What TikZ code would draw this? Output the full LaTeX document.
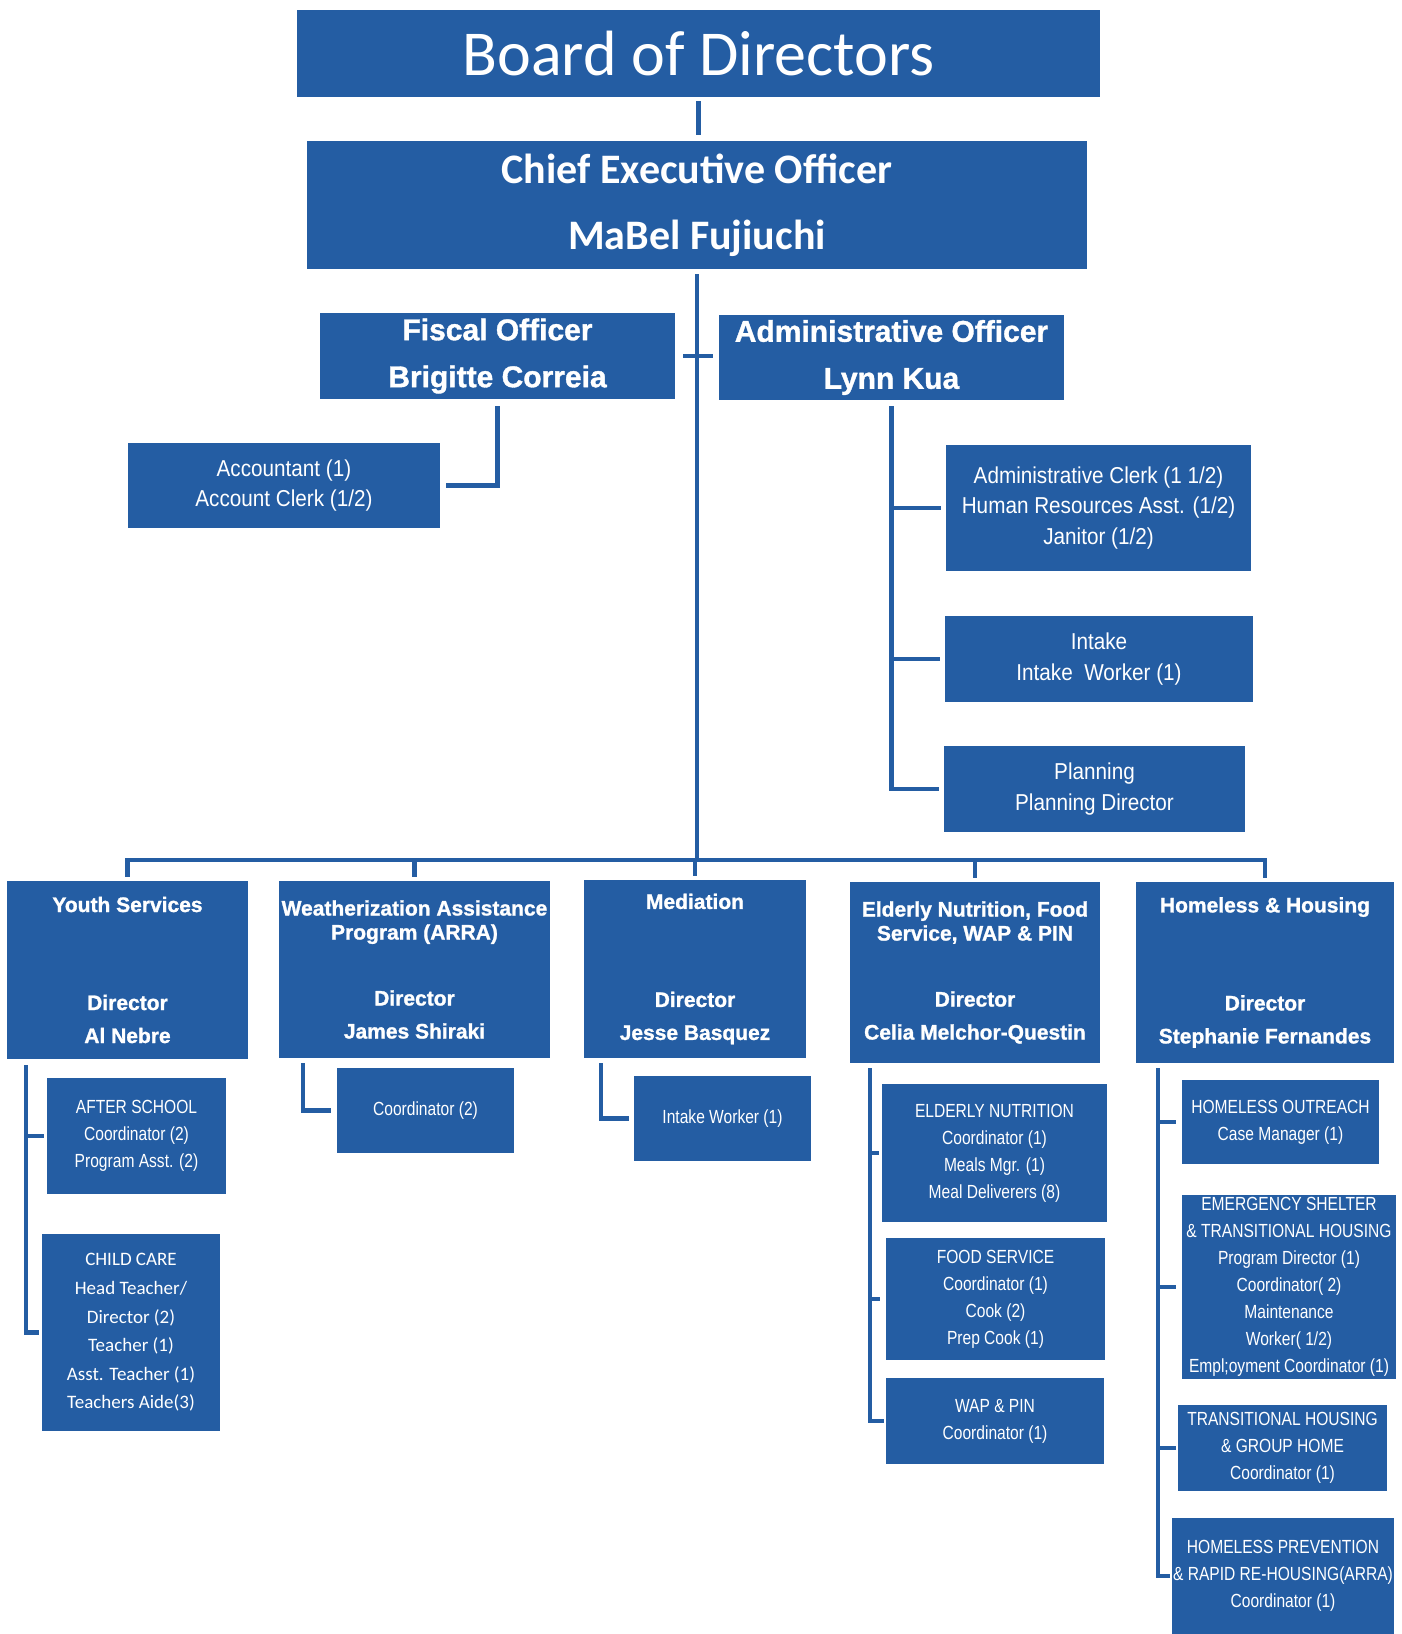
\documentclass[tikz,border=0pt]{standalone}
\usepackage{fontspec}
\newfontfamily\carl{Carlito}
\newfontfamily\hdr{Liberation Sans}[BoldFeatures={FakeBold=1.2}]
\newfontfamily\narrow{Liberation Sans}[FakeStretch=0.9]
\newfontfamily\narrowb{Liberation Sans}[FakeStretch=0.82]
\definecolor{bblue}{RGB}{36,93,163}
\tikzset{
  box/.style={fill=bblue, inner sep=0pt, text=white, align=center, anchor=center},
  conn/.style={draw=bblue, line width=4.5pt},
  upper/.style={font={\narrow\fontsize{23}{30.5}\selectfont}},
  lower/.style={font={\narrowb\fontsize{19}{27}\selectfont}},
  dept/.style={font={\hdr\bfseries\fontsize{21}{33}\selectfont}},
  officer/.style={font={\hdr\bfseries\fontsize{30}{47}\selectfont}}
}
\begin{document}
\begin{tikzpicture}[x=1pt,y=-1pt]
\useasboundingbox[fill=white] (0,0) rectangle (1401,1634);
% top
\node[box, minimum width=803pt, minimum height=87pt, font={\carl\fontsize{64}{70}\selectfont}] (board) at (698.5,53.5) {Board of Directors};
\node[box, minimum width=780pt, minimum height=128pt, font={\carl\bfseries\fontsize{42}{66}\selectfont}] (ceo) at (697,205) {Chief Executive Officer\\MaBel Fujiuchi};
\node[box, officer, minimum width=355pt, minimum height=86pt] (fiscal) at (497.5,356) {Fiscal Officer\\Brigitte Correia};
\node[box, officer, minimum width=345pt, minimum height=85pt] (admin) at (891.5,357.5) {Administrative Officer\\Lynn Kua};
\node[box, upper, minimum width=312pt, minimum height=85pt] (acct) at (284,485.5) {Accountant (1)\\Account Clerk (1/2)};
\node[box, upper, minimum width=305pt, minimum height=126pt] (clerk) at (1098.5,508) {Administrative Clerk (1 1/2)\\Human Resources Asst. (1/2)\\Janitor (1/2)};
\node[box, upper, minimum width=308pt, minimum height=86pt] (intake) at (1099,659) {Intake\\Intake\ \ Worker (1)};
\node[box, upper, minimum width=301pt, minimum height=86pt] (plan) at (1094.5,789) {Planning\\Planning Director};
% departments
\node[box, dept, minimum width=241pt, minimum height=178pt] (youth) at (127.5,970) {Youth Services\\[65pt]Director\\Al Nebre};
\node[box, dept, minimum width=271pt, minimum height=177pt] (weather) at (414.5,969.5) {Weatherization Assistance\\[-9pt]Program (ARRA)\\[33pt]Director\\James Shiraki};
\node[box, dept, minimum width=222pt, minimum height=178pt] (med) at (695,969) {Mediation\\[65pt]Director\\Jesse Basquez};
\node[box, dept, minimum width=250pt, minimum height=181pt] (elder) at (975,972.5) {Elderly Nutrition, Food\\[-9pt]Service, WAP \& PIN\\[33pt]Director\\Celia Melchor-Questin};
\node[box, dept, minimum width=258pt, minimum height=181pt] (homeless) at (1265,972.5) {Homeless \& Housing\\[65pt]Director\\Stephanie Fernandes};
% sub boxes
\node[box, lower, minimum width=179pt, minimum height=116pt] (after) at (136.5,1136) {AFTER SCHOOL\\Coordinator (2)\\Program Asst. (2)};
\node[box, minimum width=178pt, minimum height=197pt, font={\carl\fontsize{19}{28.6}\selectfont}] (care) at (131,1332.5) {CHILD CARE\\Head Teacher/\\Director (2)\\Teacher (1)\\Asst. Teacher (1)\\Teachers Aide(3)};
\node[box, lower, minimum width=177pt, minimum height=85pt] (wcoord) at (425.5,1110.5) {Coordinator (2)};
\node[box, lower, minimum width=177pt, minimum height=85pt] (mintake) at (722.5,1118.5) {Intake Worker (1)};
\node[box, lower, minimum width=225pt, minimum height=138pt] (enut) at (994.5,1153) {ELDERLY NUTRITION\\Coordinator (1)\\Meals Mgr. (1)\\Meal Deliverers (8)};
\node[box, lower, minimum width=219pt, minimum height=122pt] (food) at (995.5,1299) {FOOD SERVICE\\Coordinator (1)\\Cook (2)\\Prep Cook (1)};
\node[box, lower, minimum width=218pt, minimum height=86pt] (wap) at (995,1421) {WAP \& PIN\\Coordinator (1)};
\node[box, lower, minimum width=197pt, minimum height=84pt] (outreach) at (1280.5,1122) {HOMELESS OUTREACH\\Case Manager (1)};
\node[box, lower, minimum width=214pt, minimum height=184pt] (emerg) at (1289,1287) {EMERGENCY SHELTER\\\& TRANSITIONAL HOUSING\\Program Director (1)\\Coordinator( 2)\\Maintenance\\Worker( 1/2)\\Empl;oyment Coordinator (1)};
\node[box, lower, minimum width=209pt, minimum height=86pt] (trans) at (1282.5,1448) {TRANSITIONAL HOUSING\\\& GROUP HOME\\Coordinator (1)};
\node[box, lower, minimum width=222pt, minimum height=116pt] (prev) at (1283,1576) {HOMELESS PREVENTION\\\& RAPID RE-HOUSING(ARRA)\\Coordinator (1)};
% connectors
\coordinate (bus) at (696,860);
\draw[conn, shorten <=4pt, shorten >=6pt] (board.south) -- (board.south |- ceo.north);
\draw[conn, shorten <=5pt] (ceo.south) -- (ceo.south |- bus);
\draw[conn, shorten <=8pt, shorten >=6pt] (fiscal.east) -- (fiscal.east -| admin.west);
\draw[conn, shorten <=7pt, shorten >=6pt] (fiscal.south) |- (acct.east);
\draw[conn, shorten <=6pt, shorten >=5pt] (admin.south) |- (plan.west);
\draw[conn, shorten >=5pt] (admin.south |- clerk.west) -- (clerk.west);
\draw[conn, shorten >=5pt] (admin.south |- intake.west) -- (intake.west);
\draw[conn, shorten <=4pt, shorten >=4pt] (youth.north) -- (youth.north |- bus) -- (homeless.north |- bus) -- (homeless.north);
\draw[conn, shorten <=4pt] (weather.north) -- (weather.north |- bus);
\draw[conn, shorten <=4pt] (med.north) -- (med.north |- bus);
\draw[conn, shorten <=4pt] (elder.north) -- (elder.north |- bus);
% youth
\coordinate (ys) at (26,1065);
\draw[conn, shorten >=3pt] (ys) |- (care.west);
\draw[conn, shorten >=3pt] (ys |- after.west) -- (after.west);
% weatherization
\coordinate (ws) at (303,1063);
\draw[conn, shorten >=6pt] (ws) |- (wcoord.west);
% mediation
\coordinate (ms) at (601,1063);
\draw[conn, shorten >=5pt] (ms) |- (mintake.west);
% elderly
\coordinate (es) at (870,1068);
\draw[conn, shorten >=2pt] (es) |- (wap.west);
\draw[conn, shorten >=3pt] (es |- enut.west) -- (enut.west);
\draw[conn, shorten >=6pt] (es |- food.west) -- (food.west);
% homeless
\coordinate (hs) at (1158,1068);
\draw[conn, shorten >=2pt] (hs) |- (prev.west);
\draw[conn, shorten >=6pt] (hs |- outreach.west) -- (outreach.west);
\draw[conn, shorten >=6pt] (hs |- emerg.west) -- (emerg.west);
\draw[conn, shorten >=2pt] (hs |- trans.west) -- (trans.west);
\end{tikzpicture}
\end{document}
